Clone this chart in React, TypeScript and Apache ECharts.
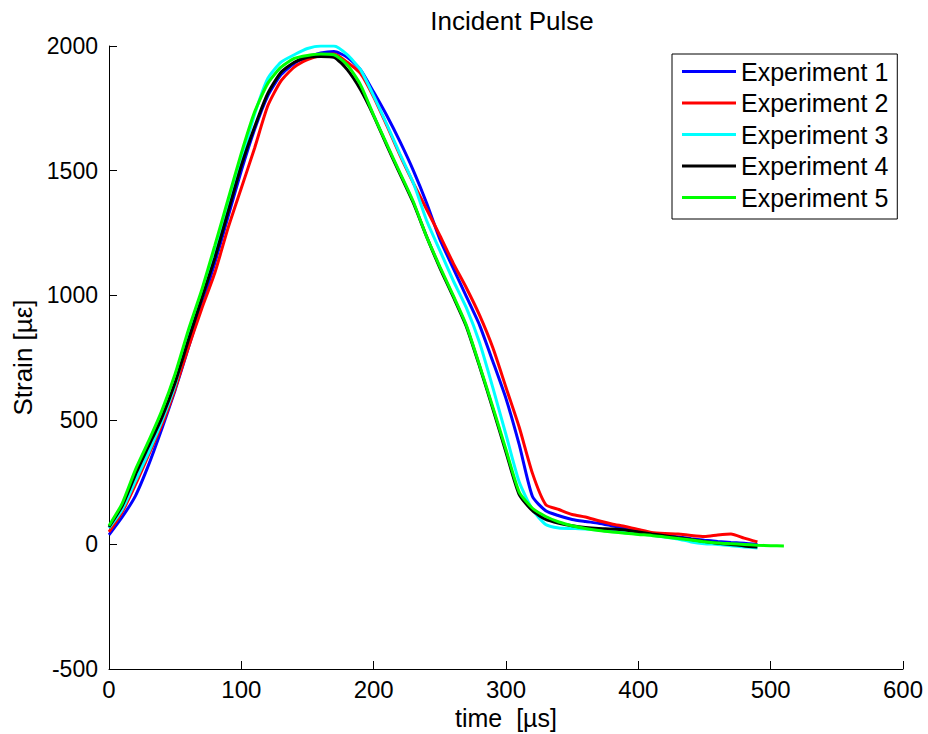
import React, { useEffect, useRef } from "react";
import * as echarts from "echarts";

const time = [
  0, 10, 20, 30, 40, 50, 60, 70, 80, 90, 100, 110, 120, 130, 140, 150, 160, 170, 180, 190,
  200, 210, 220, 230, 240, 250, 260, 270, 280, 290, 300, 310, 320, 330, 340, 350, 360, 370,
  380, 390, 400, 410, 420, 430, 440, 450, 460, 470, 480, 490, 500, 510,
];

const experiment1 = [
  38, 110, 195, 320, 465, 620, 790, 960, 1130, 1315, 1500, 1665, 1800, 1885, 1930, 1955, 1972,
  1978, 1955, 1905, 1815, 1720, 1615, 1500, 1370, 1225, 1110, 995, 880, 735, 585, 400, 192, 135,
  115, 100, 92, 85, 75, 65, 55, 45, 37, 30, 23, 17, 12, 8, 5, 0, null, null,
];

const experiment2 = [
  50, 130, 240, 360, 480, 625, 790, 945, 1090, 1270, 1430, 1590, 1760, 1860, 1915, 1945, 1962,
  1968, 1935, 1890, 1795, 1680, 1560, 1450, 1345, 1240, 1130, 1030, 920, 790, 630, 470, 285, 160,
  140, 120, 110, 95, 82, 72, 60, 48, 44, 42, 36, 32, 38, 42, 25, 10, null, null,
];

const experiment3 = [
  65, 140, 255, 370, 495, 640, 840, 990, 1165, 1350, 1540, 1725, 1870, 1935, 1965, 1990, 2000,
  2000, 1965, 1905, 1800, 1685, 1565, 1450, 1300, 1180, 1060, 950, 810, 630, 440, 250, 140, 80,
  66, 64, 62, 58, 52, 47, 42, 37, 30, 22, 10, 3, 0, -5, -10, -14, null, null,
];

const experiment4 = [
  70, 155, 280, 395, 510, 650, 820, 985, 1150, 1335, 1520, 1675, 1810, 1895, 1935, 1955, 1958,
  1955, 1905, 1825, 1720, 1600, 1485, 1370, 1235, 1110, 995, 875, 715, 545, 370, 200, 135, 100,
  85, 75, 68, 64, 62, 58, 50, 42, 35, 27, 20, 12, 5, 0, -6, -10, null, null,
];

const experiment5 = [
  75, 165, 300, 415, 538, 685, 861, 1020, 1200, 1385, 1570, 1735, 1850, 1915, 1950, 1962, 1968,
  1965, 1925, 1845, 1722, 1605, 1490, 1375, 1235, 1115, 1000, 880, 719, 552, 380, 210, 145, 112,
  90, 75, 64, 56, 50, 45, 40, 36, 30, 24, 18, 11, 6, 3, 0, -3, -5, -6,
];

const seriesNames = ["Experiment 1", "Experiment 2", "Experiment 3", "Experiment 4", "Experiment 5"];
const seriesValues = [experiment1, experiment2, experiment3, experiment4, experiment5];
const seriesColors = ["#0000ff", "#ff0000", "#00ffff", "#000000", "#00ff00"];

const xTicks = { min: 0, max: 600, interval: 100 };
const yTicks = { min: -500, max: 2000, interval: 500 };

const FONT = "'Liberation Sans', Arial, Helvetica, sans-serif";

export default function App() {
  const ref = useRef<HTMLDivElement>(null);

  useEffect(() => {
    if (!ref.current) return;
    const chart = echarts.init(ref.current, undefined, { renderer: "svg" });

    const series = seriesNames.map((name, k) => ({
      name,
      type: "line",
      showSymbol: false,
      symbol: "none",
      smooth: 0.2,
      connectNulls: false,
      lineStyle: { color: seriesColors[k], width: 3 },
      itemStyle: { color: seriesColors[k] },
      data: time
        .map((t, i) => [t, seriesValues[k][i]])
        .filter((p) => p[1] !== null && p[1] !== undefined),
    }));

    chart.setOption({
      animation: false,
      backgroundColor: "#ffffff",
      textStyle: { fontFamily: FONT, color: "#000" },
      title: {
        text: "Incident Pulse",
        left: 507,
        textAlign: "center",
        top: 3,
        textStyle: { fontFamily: FONT, fontSize: 26, fontWeight: "normal", color: "#000" },
      },
      grid: {
        left: 109,
        right: 25,
        top: 46,
        bottom: 65,
        containLabel: false,
        outerBoundsMode: "none",
      },
      legend: {
        data: seriesNames,
        orient: "vertical",
        left: 672,
        top: 54,
        padding: [5, 9, 9, 10],
        itemGap: 6.5,
        itemWidth: 54,
        itemHeight: 3,
        icon: "rect",
        borderColor: "#000",
        borderWidth: 1,
        backgroundColor: "#fff",
        textStyle: { fontFamily: FONT, fontSize: 25, lineHeight: 24, color: "#000" },
      },
      xAxis: {
        type: "value",
        min: xTicks.min,
        max: xTicks.max,
        interval: xTicks.interval,
        name: "time  [µs]",
        nameLocation: "middle",
        nameGap: 36,
        nameTextStyle: { fontFamily: FONT, fontSize: 25, color: "#000" },
        axisLine: { show: true, onZero: false, lineStyle: { color: "#000", width: 1 } },
        axisTick: { show: true, inside: true, length: 8, lineStyle: { color: "#000" } },
        axisLabel: {
          fontFamily: FONT,
          fontSize: 24,
          color: "#000",
          margin: 8,
          formatter: (v: number) => String(v),
        },
        splitLine: { show: false },
      },
      yAxis: {
        type: "value",
        min: yTicks.min,
        max: yTicks.max,
        interval: yTicks.interval,
        name: "Strain [µε]",
        nameLocation: "middle",
        nameRotate: 90,
        nameGap: 72,
        nameTextStyle: { fontFamily: FONT, fontSize: 26, color: "#000" },
        axisLine: { show: true, onZero: false, lineStyle: { color: "#000", width: 1 } },
        axisTick: { show: true, inside: true, length: 8, lineStyle: { color: "#000" } },
        axisLabel: {
          fontFamily: FONT,
          fontSize: 23,
          color: "#000",
          margin: 11,
          formatter: (v: number) => String(v),
        },
        splitLine: { show: false },
      },
      series,
    });

    return () => chart.dispose();
  }, []);

  return (
    <div
      ref={ref}
      style={{ position: "fixed", left: 0, top: 0, width: 928, height: 734, background: "#fff" }}
    />
  );
}
